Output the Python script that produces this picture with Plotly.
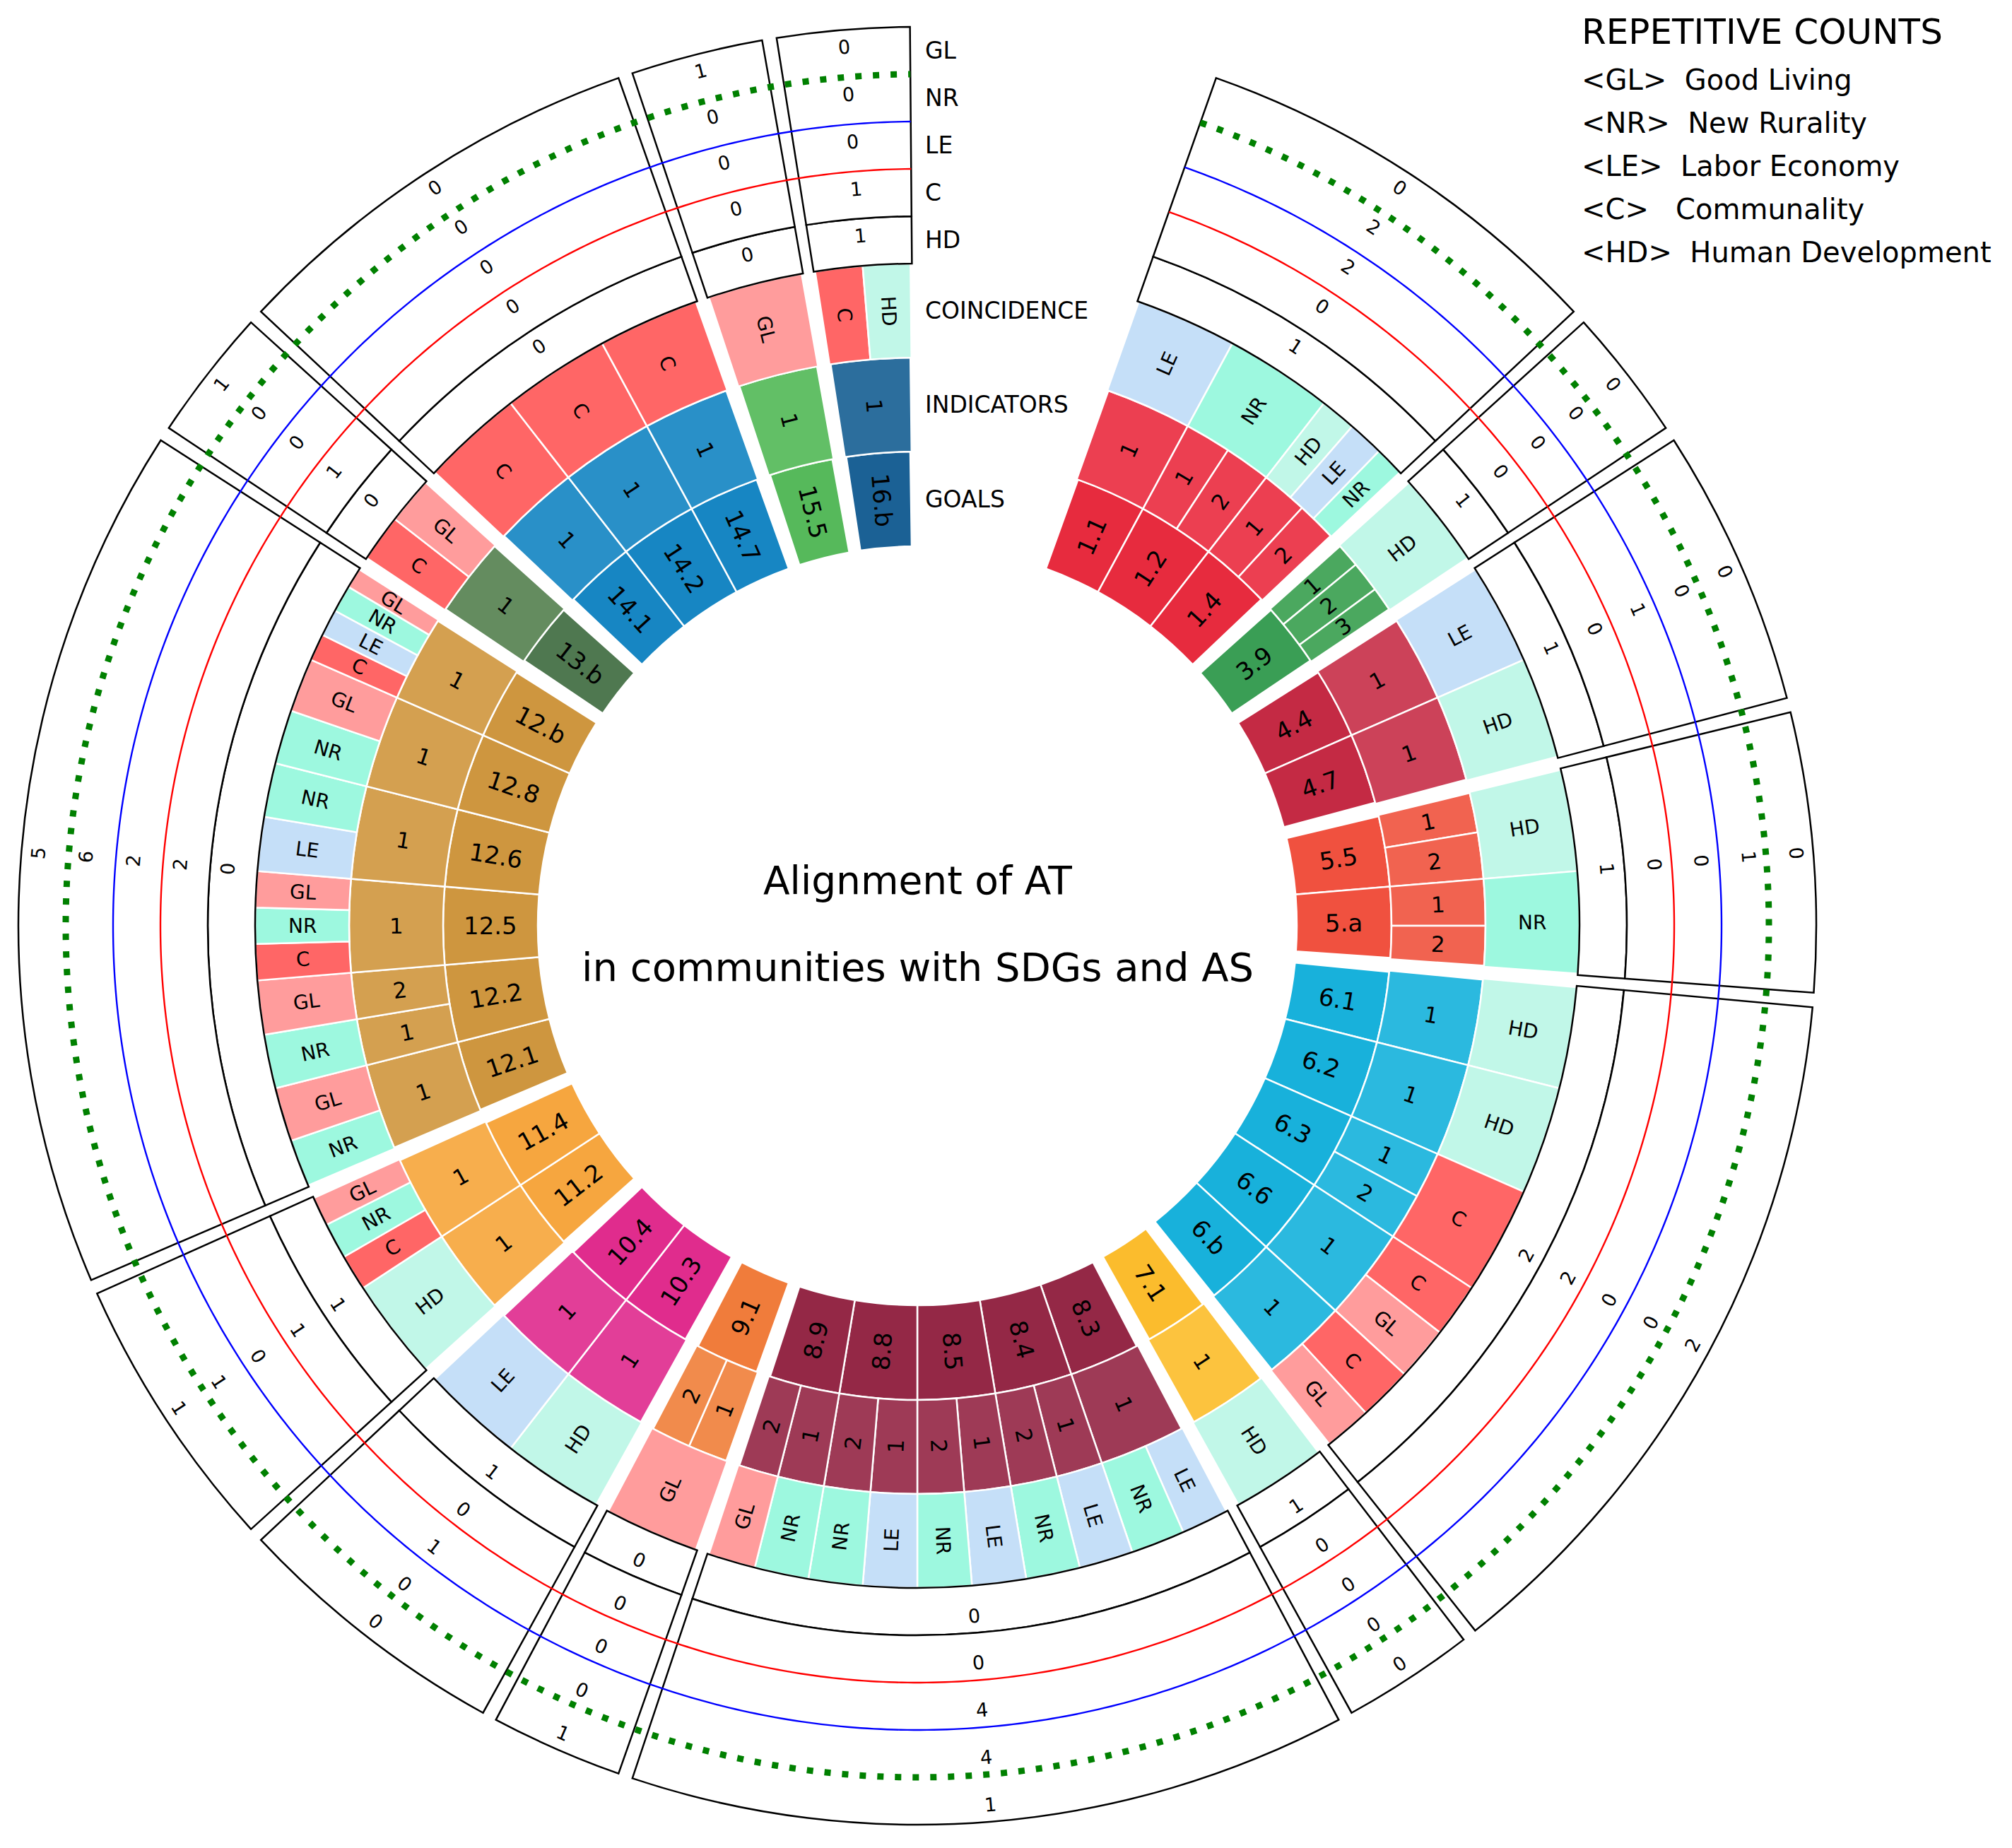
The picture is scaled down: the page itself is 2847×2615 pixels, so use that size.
import math
import numpy as np
import plotly.graph_objects as go

# ---------------- data ----------------
targets = ["1.1", "1.2", "1.4", "3.9", "4.4", "4.7", "5.5", "5.a",
           "6.1", "6.2", "6.3", "6.6", "6.b", "7.1",
           "8.3", "8.4", "8.5", "8.8", "8.9", "9.1", "10.3", "10.4",
           "11.2", "11.4", "12.1", "12.2", "12.5", "12.6", "12.8", "12.b",
           "13.b", "14.1", "14.2", "14.7", "15.5", "16.b"]

indicators = [[1], [1, 2], [1, 2], [1, 2, 3], [1], [1], [1, 2], [1, 2],
              [1], [1], [1, 2], [1], [1], [1],
              [1], [1, 2], [1, 2], [1, 2], [1, 2], [1, 2], [1], [1],
              [1], [1], [1], [1, 2], [1], [1], [1], [1],
              [1], [1], [1], [1], [1], [1]]

coincidence = [["LE"], ["NR"], ["HD", "LE", "NR"], ["HD"], ["LE"], ["HD"], ["HD"], ["NR"],
               ["HD"], ["HD"], ["C"], ["C", "GL"], ["C", "GL"], ["HD"],
               ["LE", "NR"], ["LE", "NR"], ["LE", "NR"], ["LE", "NR"], ["NR", "GL"], ["GL"],
               ["HD"], ["LE"], ["HD"], ["C", "NR", "GL"],
               ["NR", "GL"], ["NR", "GL"], ["C", "NR", "GL"], ["LE", "NR"], ["NR", "GL"],
               ["C", "LE", "NR", "GL"],
               ["C", "GL"], ["C"], ["C"], ["C"], ["GL"], ["C", "HD"]]

sdg_groups = ["1", "3", "4", "5", "6", "7", "8", "9", "10", "11", "12", "13", "14", "15", "16"]
count_HD = [1, 1, 1, 1, 2, 1, 0, 0, 1, 1, 0, 0, 0, 0, 1]
count_C = [0, 0, 0, 0, 2, 0, 0, 0, 0, 1, 2, 1, 0, 0, 1]
count_LE = [2, 0, 1, 0, 0, 0, 4, 0, 1, 0, 2, 0, 0, 0, 0]
count_NR = [2, 0, 0, 1, 0, 0, 4, 0, 0, 1, 6, 0, 0, 0, 0]
count_GL = [0, 0, 0, 0, 2, 0, 1, 1, 0, 1, 5, 1, 0, 1, 0]
count_rings = ["HD", "C", "LE", "NR", "GL"]

legend_codes = ["GL", "NR", "LE", "C", "HD"]
legend_names = ["Good Living", "New Rurality", "Labor Economy", "Communality", "Human Development"]

# ---------------- styles ----------------
goal_color = {"1": "#E72B3E", "3": "#3A9E55", "4": "#C42A44", "5": "#F0513F", "6": "#18B1DB",
              "7": "#FBBC2D", "8": "#942846", "9": "#F07C3B", "10": "#E02C8D", "11": "#F6A63F",
              "12": "#CE963F", "13": "#4F7850", "14": "#1786C3", "15": "#56B95B", "16": "#1B6195"}
ind_color = {"1": "#EC3F51", "3": "#4BA85F", "4": "#CC4259", "5": "#F16350", "6": "#2BB9DF",
             "7": "#FCC33E", "8": "#9E3A56", "9": "#F18B4C", "10": "#E23E98", "11": "#F7AE4D",
             "12": "#D4A050", "13": "#648C5F", "14": "#2990C8", "15": "#62BF66", "16": "#2C6E9D"}
as_color = {"GL": "#FF9C9C", "NR": "#9DF8DF", "LE": "#C5DFF8", "C": "#FF6666", "HD": "#C1F7E8"}

FONT = "DejaVu Sans"
PAGE_MARGIN = 8                      # default body margin of the html page
W, H = 2847 - 2 * PAGE_MARGIN, 2615 - 2 * PAGE_MARGIN
CX, CY = 1298 - PAGE_MARGIN, 1310 - PAGE_MARGIN
RMAX = 1286
R_GOAL = (537, 671)
R_IND = (671, 804)
R_COI = (804, 937)
COUNT_EDGES = [937, 1004, 1071, 1138, 1205, 1272]
COUNT_TEXT_SHIFT = 9
GAP_PX = 18

unit = 360.0 / (len(targets) + 2)
start = 2 * unit
group_of = [t.split(".")[0] for t in targets]


def gap_deg(r):
    return math.degrees(GAP_PX / r)


def sub_cells(i, n, gap):
    a0 = start + i * unit
    first = i == 0 or group_of[i - 1] != group_of[i]
    last = i == len(targets) - 1 or group_of[i + 1] != group_of[i]
    out = []
    for k in range(n):
        a = a0 + k * unit / n
        b = a + unit / n
        if k == 0 and first:
            a += gap / 2
        if k == n - 1 and last:
            b -= gap / 2
        out.append((a, b))
    return out


def radial_angle(th):
    th %= 360
    return th - 90 if th < 180 else th - 270


def tang_angle(th):
    th %= 360
    if 90 < th < 270:
        return th - 180
    if th >= 270:
        return th - 360
    return th


annotations = []


def add_text(txt, r, th, size, angle):
    t = math.radians(th)
    annotations.append(dict(x=r * math.sin(t), y=r * math.cos(t), xref="x", yref="y",
                            text=txt, showarrow=False, textangle=angle,
                            xanchor="center", yanchor="middle",
                            font=dict(family=FONT, size=size, color="black")))


fig = go.Figure()


def ring_trace(cells, base, thick, colors, lw=2.5, lc="white"):
    th = [(a + b) / 2 for a, b in cells]
    wd = [b - a for a, b in cells]
    fig.add_trace(go.Barpolar(theta=th, width=wd, r=[thick] * len(cells), base=[base] * len(cells),
                              marker=dict(color=colors, line=dict(color=lc, width=lw)),
                              hoverinfo="skip", showlegend=False))


# goals ring
g = gap_deg((R_GOAL[0] + R_GOAL[1]) / 2)
cells, cols = [], []
for i, t in enumerate(targets):
    c = sub_cells(i, 1, g)[0]
    cells.append(c)
    cols.append(goal_color[group_of[i]])
    m = (c[0] + c[1]) / 2
    add_text(t, (R_GOAL[0] + R_GOAL[1]) / 2, m, 34, radial_angle(m))
ring_trace(cells, R_GOAL[0], R_GOAL[1] - R_GOAL[0], cols)

# indicators ring
g = gap_deg((R_IND[0] + R_IND[1]) / 2)
cells, cols = [], []
for i, inds in enumerate(indicators):
    for c, v in zip(sub_cells(i, len(inds), g), inds):
        cells.append(c)
        cols.append(ind_color[group_of[i]])
        m = (c[0] + c[1]) / 2
        add_text(str(v), (R_IND[0] + R_IND[1]) / 2, m, 31, radial_angle(m))
ring_trace(cells, R_IND[0], R_IND[1] - R_IND[0], cols)

# coincidence ring
g = gap_deg((R_COI[0] + R_COI[1]) / 2)
cells, cols = [], []
for i, cs in enumerate(coincidence):
    for c, v in zip(sub_cells(i, len(cs), g), cs):
        cells.append(c)
        cols.append(as_color[v])
        m = (c[0] + c[1]) / 2
        add_text(v, (R_COI[0] + R_COI[1]) / 2, m, 28, radial_angle(m))
ring_trace(cells, R_COI[0], R_COI[1] - R_COI[0], cols)

# repetitive-count boxes
counts = [count_HD, count_C, count_LE, count_NR, count_GL]
gb = gap_deg((COUNT_EDGES[0] + COUNT_EDGES[-1]) / 2)
box_cells = []
for gi, grp in enumerate(sdg_groups):
    idx = [i for i, gg in enumerate(group_of) if gg == grp]
    a = start + idx[0] * unit + gb / 2
    b = start + (idx[-1] + 1) * unit - gb / 2
    box_cells.append((a, b))
    m = (a + b) / 2
    for j in range(5):
        rr = (COUNT_EDGES[j] + COUNT_EDGES[j + 1]) / 2 + COUNT_TEXT_SHIFT
        add_text(str(counts[j][gi]), rr, m, 27, tang_angle(m))
ring_trace(box_cells, COUNT_EDGES[0], COUNT_EDGES[1] - COUNT_EDGES[0], ["white"] * len(box_cells),
           lw=2.5, lc="black")
ring_trace(box_cells, COUNT_EDGES[1], COUNT_EDGES[5] - COUNT_EDGES[1], ["white"] * len(box_cells),
           lw=2.5, lc="black")

# separator circles between count rings
arc = np.linspace(box_cells[0][0], box_cells[-1][1], 720)
for r_, col, dash, w_ in [(COUNT_EDGES[2], "red", "solid", 2.4),
                          (COUNT_EDGES[3], "blue", "solid", 2.4),
                          (COUNT_EDGES[4], "green", "9px,16px", 9)]:
    fig.add_trace(go.Scatterpolar(r=[r_] * len(arc), theta=arc, mode="lines",
                                  line=dict(color=col, width=w_, dash=dash),
                                  hoverinfo="skip", showlegend=False))

# anchor trace for the text overlay axes
fig.add_trace(go.Scatter(x=[0], y=[0], mode="markers", marker=dict(opacity=0, size=1),
                         hoverinfo="skip", showlegend=False))

# ring labels in the empty sector
for j, name in enumerate(count_rings):
    rr = (COUNT_EDGES[j] + COUNT_EDGES[j + 1]) / 2
    annotations.append(dict(x=9, y=rr, xref="x", yref="y", text=name, showarrow=False,
                            xanchor="left", yanchor="middle",
                            font=dict(family=FONT, size=33, color="black")))
for name, (r0, r1) in [("COINCIDENCE", R_COI), ("INDICATORS", R_IND), ("GOALS", R_GOAL)]:
    annotations.append(dict(x=9, y=(r0 + r1) / 2, xref="x", yref="y", text=name, showarrow=False,
                            xanchor="left", yanchor="middle",
                            font=dict(family=FONT, size=33, color="black")))

# centre title
annotations.append(dict(x=0, y=64, xref="x", yref="y", text="Alignment of AT", showarrow=False,
                        xanchor="center", yanchor="middle", font=dict(family=FONT, size=55, color="black")))
annotations.append(dict(x=0, y=-58, xref="x", yref="y", text="in communities with SDGs and AS",
                        showarrow=False, xanchor="center", yanchor="middle",
                        font=dict(family=FONT, size=56, color="black")))

# legend block (top right), window pixel positions converted to figure pixels
LX = 2236 - PAGE_MARGIN
annotations.append(dict(x=LX / W, y=1 - (45 - PAGE_MARGIN) / H, xref="paper", yref="paper",
                        text="REPETITIVE COUNTS", showarrow=False, xanchor="left", yanchor="middle",
                        font=dict(family=FONT, size=50, color="black")))
for k, (code, name) in enumerate(zip(legend_codes, legend_names)):
    sp = "\u00a0\u00a0\u00a0" if len(code) == 1 else "\u00a0\u00a0"
    annotations.append(dict(x=LX / W, y=1 - (113 + 61 * k - PAGE_MARGIN) / H, xref="paper", yref="paper",
                            text="&lt;" + code + "&gt;" + sp + name, showarrow=False,
                            xanchor="left", yanchor="middle",
                            font=dict(family=FONT, size=40, color="black")))

xd = [(CX - RMAX) / W, (CX + RMAX) / W]
yd = [(H - CY - RMAX) / H, (H - CY + RMAX) / H]
fig.update_layout(
    width=W, height=H, autosize=False,
    margin=dict(l=0, r=0, t=0, b=0),
    paper_bgcolor="white", plot_bgcolor="rgba(0,0,0,0)",
    showlegend=False,
    polar=dict(domain=dict(x=xd, y=yd), bgcolor="white", hole=0,
               radialaxis=dict(range=[0, RMAX], visible=False),
               angularaxis=dict(rotation=90, direction="clockwise", visible=False)),
    xaxis=dict(domain=xd, range=[-RMAX, RMAX], visible=False, fixedrange=True),
    yaxis=dict(domain=yd, range=[-RMAX, RMAX], visible=False, fixedrange=True),
    annotations=annotations,
    font=dict(family=FONT),
)
fig.write_html("out.html")
